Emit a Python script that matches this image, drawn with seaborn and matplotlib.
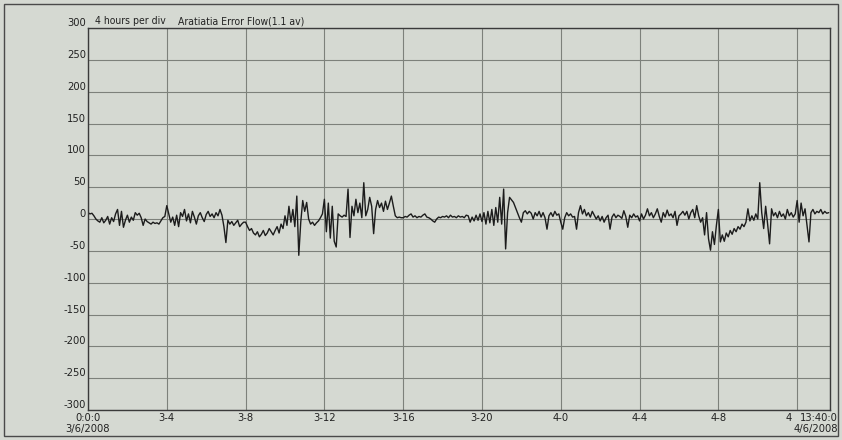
import numpy as np
import pandas as pd
import matplotlib
matplotlib.use('Agg')
import matplotlib.pyplot as plt
import matplotlib.transforms as mtransforms
from matplotlib.patches import Rectangle
import seaborn as sns

# error flow, one sample every 0.1 h, per 4 hour division
seg1 = [10, 8, 9, 5, 0, -3, -5, 2, -6, -2, 4, -8, 2, -4, 8, 15, -10, 12, -13, -2,
        6, -5, 3, -2, 10, 6, 9, 2, -10, 0, -4, -6, -8, -5, -7, -6, -8, -3, 2, 4]
seg2 = [21, 8, -5, 3, -10, 6, -12, 10, 4, 15, -3, 8, -6, 12, 3, -8, 5, 10, 2, -4,
        7, 12, 4, 8, 2, 10, 5, 15, 6, -12, -37, -2, -8, -4, -10, -6, -2, -12, -8, -5]
seg3 = [-5, -12, -18, -15, -22, -25, -20, -28, -24, -18, -26, -22, -15, -20, -25, -18, -12, -22, -8, -15,
        5, -10, 20, -5, 15, -12, 36, -57, -5, 29, 12, 26, 0, -8, -5, -10, -6, -3, 2, 8]
seg4 = [31, -20, 25, -30, 20, -35, -44, 8, 5, 3, 6, 4, 47, -29, 20, 5, 31, 10, 25, 2,
        57, 5, 15, 34, 20, -23, 15, 29, 18, 25, 12, 28, 15, 25, 36, 20, 5, 2, 3, 2]
seg5 = [2, 4, 3, 6, 8, 3, 5, 2, 4, 3, 6, 8, 3, 2, 0, -3, -5, 0, 3, 2,
        4, 3, 5, 2, 6, 3, 4, 2, 5, 3, 4, 2, 6, 5, -5, 3, -3, 6, -2, 8]
seg6 = [-4, 10, -8, 12, -6, 15, -10, 18, -5, 34, -8, 47, -47, 10, 34, 30, 26, 18, 10, 2,
        -5, 10, 13, 8, 12, 9, 0, 10, 5, 12, 3, 10, 2, -16, 5, 10, 4, 12, 6, 8]
seg7 = [-5, -16, 2, 10, 5, 8, 3, 4, -16, 10, 21, 8, 15, 5, 10, 3, 12, 6, 0, 5,
        -3, 4, -5, 2, 6, -16, 3, 8, 2, 6, 4, 1, 13, 4, -13, 6, 2, 8, 3, 5]
seg8 = [-3, 8, 0, 6, 16, 5, 10, 2, 8, 16, 4, -5, 10, 3, 14, 5, 8, 2, 12, -10,
        5, 8, 12, 6, 12, 0, 10, 15, 2, 21, 5, -5, 2, -25, 10, -31, -49, -20, -40, -10]
seg9 = [15, -36, -25, -35, -22, -28, -18, -24, -15, -20, -12, -16, -8, -12, -5, 16, -3, 5, -2, 8,
        0, 57, 10, -15, 20, -8, -39, 16, 5, 10, 2, 12, 4, 8, 0, 15, 5, 10, 3, 8]
seg10 = [29, -5, 25, 5, 16, -10, -36, 10, 15, 8, 12, 10, 15, 8, 12, 9, 10]

flow = seg1 + seg2 + seg3 + seg4 + seg5 + seg6 + seg7 + seg8 + seg9 + seg10
hours = np.arange(len(flow)) * 0.1
end_hour = 13 + 40 / 60 + 24  # 4/6/2008 13:40:0

x_ticks = [0, 4, 8, 12, 16, 20, 24, 28, 32, 36, end_hour]
x_labels = ['0:0:0\n3/6/2008', '3-4', '3-8', '3-12', '3-16', '3-20',
            '4-0', '4-4', '4-8', '4', '13:40:0\n4/6/2008']
y_ticks = list(range(300, -301, -50))

df = pd.DataFrame({'hour': hours, 'flow': flow})

bg = '#d5d9d2'
txt = '#222222'
sns.set_theme(style='white')
plt.rcParams['font.family'] = ['DejaVu Sans']
plt.rcParams['font.stretch'] = 'condensed'

fig = plt.figure(figsize=(8.42, 4.40), dpi=100, facecolor=bg)
ax = fig.add_axes([88 / 842, 30 / 440, 742 / 842, 382 / 440])
ax.set_facecolor(bg)

sns.lineplot(data=df, x='hour', y='flow', ax=ax, color='#1c1c1c', linewidth=1.0)

ax.set_xlim(0, end_hour)
ax.set_ylim(-300, 300)
ax.set_yticks(y_ticks)
ax.set_yticklabels([str(v) for v in y_ticks])
ax.set_xticks(x_ticks)
ax.set_xticklabels(x_labels)
ax.grid(True, color='#7d817b', linewidth=0.8)
ax.set_axisbelow(True)
ax.set_xlabel('')
ax.set_ylabel('')
ax.tick_params(length=0, labelsize=8, colors=txt)
ax.tick_params(axis='y', pad=1.5)
ax.tick_params(axis='x', pad=2)
for s in ax.spines.values():
    s.set_color('#3a3a3a')
    s.set_linewidth(1.0)

# y labels sit just above their grid lines
up = mtransforms.ScaledTranslation(0, 6 / 100, fig.dpi_scale_trans)
for lab in ax.get_yticklabels():
    lab.set_transform(lab.get_transform() + up)

xl = ax.get_xticklabels()
xl[-2].set_ha('right')
xl[-2].set_transform(xl[-2].get_transform() + mtransforms.ScaledTranslation(-5 / 100, 0, fig.dpi_scale_trans))
xl[-1].set_ha('right')
xl[-1].set_multialignment('right')
xl[-1].set_transform(xl[-1].get_transform() + mtransforms.ScaledTranslation(8 / 100, 0, fig.dpi_scale_trans))

fig.text(95 / 842, 1 - 21 / 440, '4 hours per div', fontsize=7.5, va='center', color=txt)
fig.text(178 / 842, 1 - 21 / 440, 'Aratiatia Error Flow(1.1 av)', fontsize=7.5, va='center', color=txt)

fig.patches.append(Rectangle((4 / 842, 4 / 440), 834 / 842, 432 / 440, transform=fig.transFigure,
                             fill=False, edgecolor='#4a4a4a', linewidth=1.0))

fig.savefig('out.png', dpi=100, facecolor=bg)
